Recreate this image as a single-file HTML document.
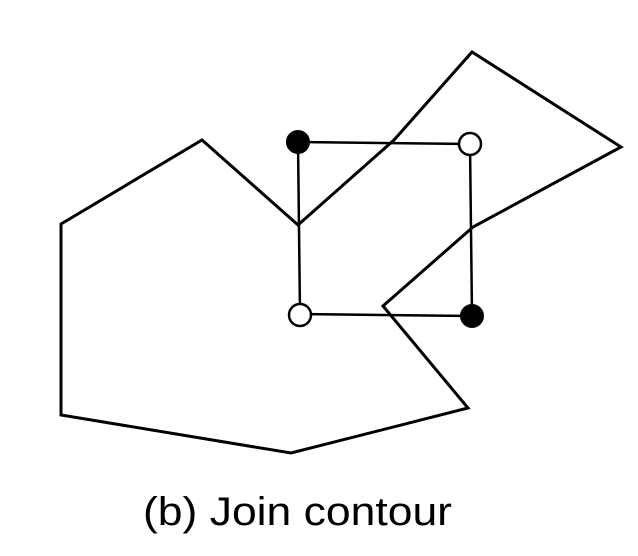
<!DOCTYPE html>
<html><head><style>html,body{margin:0;padding:0;background:#fff;}svg{display:block}</style></head>
<body>
<svg width="638" height="556" viewBox="0 0 638 556" xmlns="http://www.w3.org/2000/svg">
<polygon points="61,224 202,140 298,225 394,140 472,52 621,147 473,227 383,306 468,408 291,453 61,415" fill="none" stroke="#000" stroke-width="3" stroke-linejoin="miter"/>
<polyline points="298,142 470,144 472,316 300,314 298,142" fill="none" stroke="#000" stroke-width="2.5"/>
<circle cx="298" cy="142" r="11" fill="#000" stroke="#000" stroke-width="2"/>
<circle cx="470" cy="144" r="11" fill="#fff" stroke="#000" stroke-width="2.5"/>
<circle cx="300" cy="315" r="11" fill="#fff" stroke="#000" stroke-width="2.5"/>
<circle cx="472" cy="316" r="11" fill="#000" stroke="#000" stroke-width="2"/>
<text x="143" y="525" font-family="Liberation Sans, sans-serif" font-size="40" textLength="309" lengthAdjust="spacingAndGlyphs" fill="#000">(b) Join contour</text>
</svg>
</body></html>
